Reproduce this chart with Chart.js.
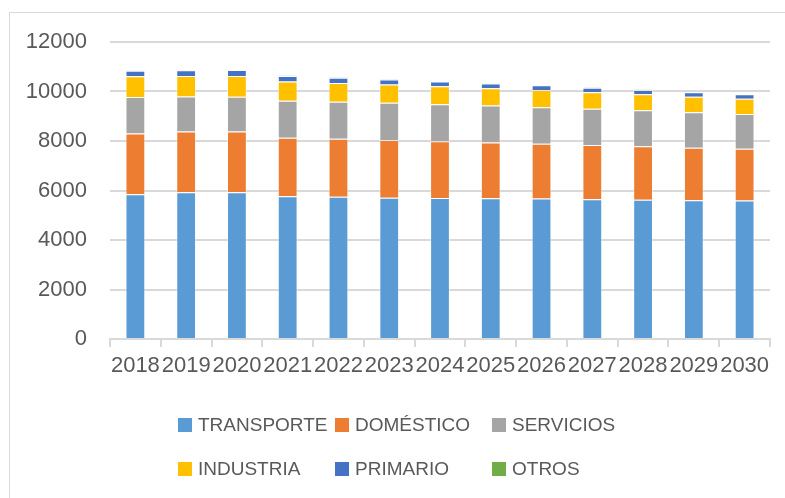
<!DOCTYPE html>
<html>
<head>
<meta charset="utf-8">
<script src="https://cdn.jsdelivr.net/npm/chart.js@4"></script>
<style>
  body { margin: 0; background: #fff; overflow: hidden; }
  #frame { position: absolute; left: 9px; top: 12px; width: 800px; height: 500px; border: 1px solid #d9d9d9; }
  #wrap { position: absolute; left: 0; top: 0; width: 785px; height: 498px; }
  .legend { position: absolute; font-family: "Liberation Sans", Arial, sans-serif; font-size: 19px; color: #595959; }
  .legend .item { position: absolute; white-space: nowrap; display: flex; align-items: center; }
  .legend .box { width: 14px; height: 14px; margin-right: 6px; }
</style>
</head>
<body>
<div id="frame"></div>
<div id="wrap"><canvas id="energy-chart" width="785" height="498"></canvas></div>
<div class="legend" id="legend"></div>
<script>
// Consumo por sector
const years = ['2018','2019','2020','2021','2022','2023','2024','2025','2026','2027','2028','2029','2030'];
const transporte = [5850, 5930, 5930, 5770, 5750, 5710, 5700, 5685, 5680, 5645, 5630, 5605, 5595];
const domestico  = [2450, 2450, 2450, 2365, 2345, 2330, 2290, 2250, 2210, 2195, 2155, 2125, 2090];
const servicios  = [1480, 1415, 1410, 1495, 1495, 1505, 1495, 1495, 1470, 1465, 1455, 1430, 1405];
const industria  = [835, 835, 835, 770, 755, 740, 725, 700, 700, 660, 645, 630, 620];
const primario   = [225, 230, 240, 230, 215, 200, 190, 190, 190, 190, 175, 175, 175];
const otros      = [12, 12, 12, 20, 20, 18, 18, 18, 18, 16, 16, 15, 15];
const yTicks = [0, 2000, 4000, 6000, 8000, 10000, 12000];

const series = [
  { label: 'TRANSPORTE', data: transporte, color: '#5B9BD5' },
  { label: 'DOMÉSTICO', data: domestico, color: '#ED7D31' },
  { label: 'SERVICIOS', data: servicios, color: '#A5A5A5' },
  { label: 'INDUSTRIA', data: industria, color: '#FFC000' },
  { label: 'PRIMARIO', data: primario, color: '#4472C4' },
  { label: 'OTROS', data: otros, color: '#70AD47' },
];

const font = { family: '"Liberation Sans", Arial, sans-serif', size: 22 };

const ctx = document.getElementById('energy-chart');
new Chart(ctx, {
  type: 'bar',
  data: {
    labels: years,
    datasets: series.map(s => ({
      label: s.label,
      data: s.data,
      backgroundColor: s.color,
      borderColor: 'rgba(255,255,255,0.4)',
      borderWidth: 1,
      barPercentage: 0.39,
      categoryPercentage: 1
    }))
  },
  options: {
    responsive: false,
    animation: false,
    layout: { padding: { left: 0, right: 15, top: 42, bottom: 0 } },
    plugins: { legend: { display: false }, tooltip: { enabled: false } },
    scales: {
      x: {
        stacked: true,
        grid: { drawOnChartArea: false, drawTicks: true, tickLength: 8, color: '#d9d9d9', lineWidth: 2 },
        border: { color: '#d9d9d9', width: 2 },
        ticks: { color: '#595959', font: font, autoSkip: false, maxRotation: 0, padding: 6 },
        afterFit: s => { s.height = 159; }
      },
      y: {
        stacked: true,
        min: 0,
        max: 12000,
        afterBuildTicks: s => { s.ticks = yTicks.map(v => ({ value: v })); },
        grid: { color: '#d9d9d9', lineWidth: 2, drawTicks: false },
        border: { display: false },
        ticks: { color: '#595959', font: font, padding: 23, callback: v => String(v) },
        afterFit: s => { s.width = 110; }
      }
    }
  }
});

// legend in two aligned rows
const legend = document.getElementById('legend');
const cols = [178, 335, 492];
const rows = [418, 462];
series.forEach((s, i) => {
  const item = document.createElement('div');
  item.className = 'item';
  item.style.left = cols[i % 3] + 'px';
  item.style.top = (rows[Math.floor(i / 3)] - 4) + 'px';
  item.style.height = '22px';
  item.innerHTML = '<span class="box" style="background:' + s.color + '"></span>' + s.label;
  legend.appendChild(item);
});
</script>
</body>
</html>
